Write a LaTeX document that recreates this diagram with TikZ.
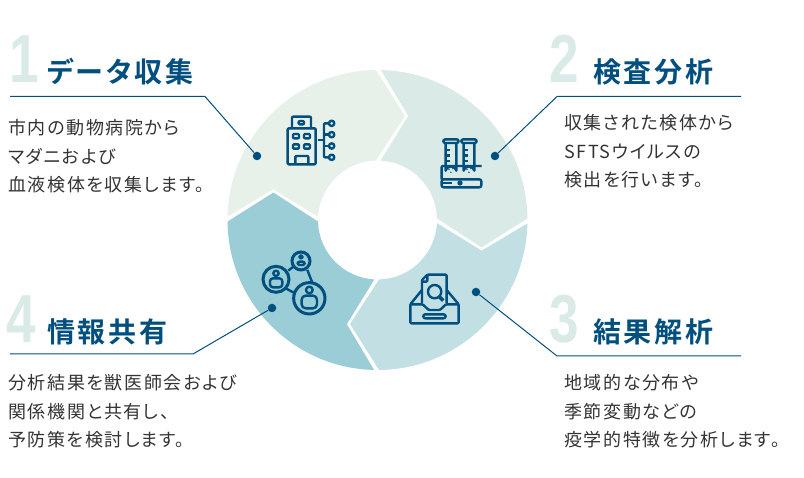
\documentclass[tikz,border=0pt]{standalone}
\usepackage{fontspec}
\usepackage{xcolor}
\usetikzlibrary{positioning}
\setmainfont{Noto Sans CJK JP}
\newfontfamily\jpbody[LetterSpace=9,RawFeature=+palt]{Noto Sans CJK JP}
\newfontfamily\jptitle[LetterSpace=10,RawFeature=+palt,BoldFont={Noto Sans CJK JP Bold}]{Noto Sans CJK JP}
\newfontfamily\numfont{Liberation Sans}
\newcommand{\bignum}[1]{\scalebox{0.78}[1]{#1}}
\definecolor{darkblue}{HTML}{004F7F}
\definecolor{bodygray}{HTML}{333333}
\definecolor{segA}{HTML}{E8F1E9}
\definecolor{segB}{HTML}{D9EAE7}
\definecolor{segC}{HTML}{C2E0E4}
\definecolor{segD}{HTML}{9ACDD6}

\begin{document}
\begin{tikzpicture}[
    x=1pt, y=-1pt,
    number/.style={inner sep=0pt, anchor=base west, text=segB, font=\numfont\bfseries\fontsize{68}{68}\selectfont},
    heading/.style={inner sep=0pt, anchor=west, text=darkblue, font=\jptitle\bfseries\fontsize{28}{30}\selectfont},
    bodytext/.style={inner sep=0pt, anchor=north west, align=left, text=bodygray, font=\jpbody\fontsize{18}{28.7}\selectfont},
    dotnode/.style={circle, fill=darkblue, inner sep=0pt, minimum size=8.5pt},
    leader/.style={draw=darkblue, line width=1pt},
    iconline/.style={draw=darkblue, line width=2.4pt, line join=round, rounded corners=1pt}
]
\useasboundingbox (0,0) rectangle (804,478);

% Ring
\begin{scope}[shift={(377.5,220)}]
\foreach \segcolor/\segrot in {segA/0, segB/90, segC/180, segD/270} {
    \fill[\segcolor] (\segrot+181.3:150) arc[start angle=\segrot+181.3, end angle=\segrot+269.4, radius=150]
        -- (\segrot+284.8:107.6) -- (\segrot+268.5:59.5)
        arc[start angle=\segrot+268.5, end angle=\segrot+183, radius=59.5]
        -- (\segrot+196.4:108.6) -- cycle;
}
\end{scope}

% Data collection
\node[number] (num1) at (9,83) {\bignum{1}};
\node[heading] (title1) at (47,72) {データ収集};
\node[bodytext] (text1) at (8,119) {市内の動物病院から\\マダニおよび\\血液検体を収集します。};
\node[dotnode] (dot1) at (257,156) {};
\coordinate (lineA1) at (10,96.5);
\coordinate (lineA2) at (205,96.5);
\draw[leader] (lineA1) -- (lineA2) -- (dot1);

% Analysis
\node[number] (num2) at (549,83) {\bignum{2}};
\node[heading] (title2) at (593,72) {検査分析};
\node[bodytext] (text2) at (564,114) {収集された検体から\\SFTSウイルスの\\検出を行います。};
\node[dotnode] (dot2) at (495,156) {};
\coordinate (lineB1) at (741,96.5);
\coordinate (lineB2) at (557,96.5);
\draw[leader] (lineB1) -- (lineB2) -- (dot2);

% Results
\node[number] (num3) at (549,343) {\bignum{3}};
\node[heading] (title3) at (593,332) {結果解析};
\node[bodytext] (text3) at (564,374) {地域的な分布や\\季節変動などの\\疫学的特徴を分析します。};
\node[dotnode] (dot3) at (476,292) {};
\coordinate (lineC1) at (741,356);
\coordinate (lineC2) at (557,356);
\draw[leader] (lineC1) -- (lineC2) -- (dot3);

% Sharing
\node[number] (num4) at (6,343) {\bignum{4}};
\node[heading] (title4) at (47,332) {情報共有};
\node[bodytext] (text4) at (8,374) {分析結果を獣医師会および\\関係機関と共有し、\\予防策を検討します。};
\node[dotnode] (dot4) at (272,308) {};
\coordinate (lineD1) at (10,354);
\coordinate (lineD2) at (193,354);
\draw[leader] (lineD1) -- (lineD2) -- (dot4);

% Icons
\begin{scope}[shift={(220,60)}, x=0.3333pt, y=-0.3333pt]
% building
\draw[iconline] (216,205) -- (216,170) -- (273,170) -- (273,205);
\draw[iconline] (236,183) rectangle (252,193);
\draw[iconline] (203,205) rectangle (287,313);
\foreach \winx/\winy in {219/222, 252/222, 219/253, 252/253}
    \draw[iconline] (\winx,\winy) rectangle ++(18,13);
\draw[iconline] (226,313) -- (226,288) -- (265,288) -- (265,313);
\draw[iconline] (293,240) -- (312,240);
\draw[iconline] (335,190) -- (312,190) -- (312,292) -- (335,292);
\draw[iconline] (312,224) -- (335,224) (312,258) -- (335,258);
\foreach \nody in {190,224,258,292}
    \draw[iconline, fill=segA] (335,\nody) circle[radius=8];

% test tubes
\foreach \tubex in {670,724} {
    \draw[iconline, rounded corners=2pt] (\tubex,238) rectangle ++(46,11);
    \draw[iconline] (\tubex+7,249) -- (\tubex+7,335) arc[start angle=180, end angle=0, x radius=16, y radius=-16] -- (\tubex+39,249);
    \draw[iconline] (\tubex+7,270) -- ++(14,0) (\tubex+7,287) -- ++(14,0) (\tubex+7,303) -- ++(14,0);
    \fill[darkblue] (\tubex+17,328) circle[radius=2.5] (\tubex+29,326) circle[radius=2.5] (\tubex+23,337) circle[radius=2.5];
}
\draw[iconline] (665,358) -- (665,318) -- (785,318);
\draw[iconline, rounded corners=2pt] (665,358) rectangle (784,382);
\draw[iconline] (665,369) -- (697,369);
\fill[darkblue] (720,369) circle[radius=8];

% tray
\draw[iconline] (606,730) -- (606,660) -- (622,644) -- (680,644) -- (680,730);
\draw[iconline] (622,644) -- (622,665) -- (606,665);
\draw[iconline] (606,690) -- (571,733) -- (571,790) -- (716,790) -- (716,733) -- (680,690);
\draw[iconline] (571,733) -- (608,733) -- (626,750) -- (660,750) -- (678,733) -- (716,733);
\draw[iconline, rounded corners=2pt] (610,763) rectangle (677,775);
\draw[iconline] (644,695) circle[radius=20];
\draw[darkblue, line width=3.6pt] (658,710) -- (670,722);

% network
\draw[iconline] (205,632) -- (220,620) (262,630) -- (277,668) (197,685) -- (225,700);
\draw[darkblue, line width=3pt] (243,603) circle[radius=27] (168,658) circle[radius=39] (268,715) circle[radius=47];
\draw[iconline] (268,690) circle[radius=10] (168,640) circle[radius=8] (243,591) circle[radius=5];
\draw[iconline, rounded corners=4pt] (245,745) -- (245,707) -- (291,707) -- (291,745) -- cycle;
\draw[iconline, rounded corners=3pt] (150,682) -- (150,655) -- (187,655) -- (187,682) -- cycle;
\draw[iconline, rounded corners=2pt] (233,615) -- (233,605) -- (254,605) -- (254,615) -- cycle;
\end{scope}

\end{tikzpicture}
\end{document}
